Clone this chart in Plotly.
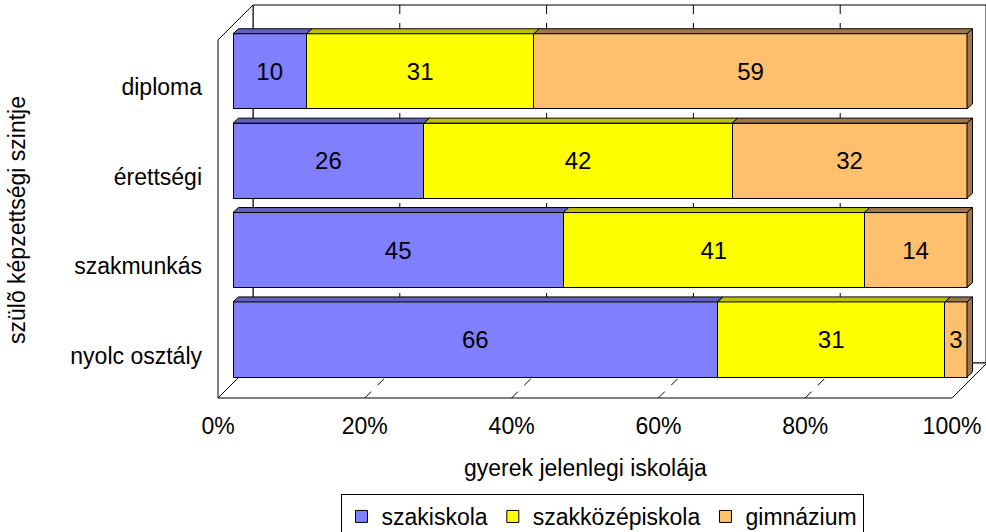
import plotly.graph_objects as go

# ---------------- data ----------------
categories = ["nyolc osztály", "szakmunkás", "érettségi", "diploma"]
series_names = ["szakiskola", "szakközépiskola", "gimnázium"]
szakiskola = [66, 45, 26, 10]
szakkozepiskola = [31, 41, 42, 31]
gimnazium = [3, 14, 32, 59]
x_ticks = [0, 20, 40, 60, 80, 100]

series_values = [szakiskola, szakkozepiskola, gimnazium]
front_colors = ["#8080FF", "#FFFF00", "#FFC06E"]
top_colors = ["#6060C0", "#C0C000", "#A07848"]

FONT = "Liberation Sans, Arial, sans-serif"
FS = 23

W, H = 986, 532
L, R, T, B = 218, 986, 5, 398       # plot area in pixels
PX_PER_X = 7.34                     # px per percent
PX_PER_Y = 89.4                     # px per category step
BAR0_PX = 233                       # pixel of 0% for the bar front faces
CAT0_PX = 339.5                     # pixel centre of first category
DEPTH = 35                          # 3D depth of the box in px
BAR_W = 0.84
DX = 5.5 / PX_PER_X                 # bar 3D offset in data units
DY = 5.0 / PX_PER_Y
LABEL_SHIFT = 16 / PX_PER_Y


def px(xp):
    return (xp - L) / (R - L)


def py(yp):
    return (B - yp) / (B - T)


xb_range = [(L - BAR0_PX) / PX_PER_X, (R - BAR0_PX) / PX_PER_X]
x2_range = [0, (R - L) / PX_PER_X]
y_range = [(CAT0_PX - B) / PX_PER_Y, (CAT0_PX - T) / PX_PER_Y]

fig = go.Figure()

ypos = list(range(len(categories)))

# front faces
for name, vals, col in zip(series_names, series_values, front_colors):
    fig.add_trace(go.Bar(
        y=ypos, x=vals, name=name, orientation="h", width=BAR_W,
        marker=dict(color=col, line=dict(color="black", width=1)),
        text=[str(v) for v in vals], textposition="inside",
        insidetextanchor="middle", textangle=0, constraintext="none",
        textfont=dict(family=FONT, size=24, color="black"),
        hoverinfo="skip",
    ))

# top faces and right side face (3D effect) computed from the data
for i in ypos:
    start = 0
    top = i + BAR_W / 2
    bot = i - BAR_W / 2
    for s, vals in enumerate(series_values):
        a, b = start, start + vals[i]
        fig.add_trace(go.Scatter(
            x=[a, b, b + DX, a + DX, a], y=[top, top, top + DY, top + DY, top],
            mode="lines", fill="toself", fillcolor=top_colors[s],
            line=dict(color="black", width=1), showlegend=False, hoverinfo="skip",
        ))
        start = b
    fig.add_trace(go.Scatter(
        x=[start, start + DX, start + DX, start, start],
        y=[bot, bot + DY, top + DY, top, bot],
        mode="lines", fill="toself", fillcolor=top_colors[-1],
        line=dict(color="black", width=1), showlegend=False, hoverinfo="skip",
    ))

# invisible trace to activate x2 axis
fig.add_trace(go.Scatter(x=[0], y=[0], xaxis="x2", mode="markers",
                         marker=dict(opacity=0), showlegend=False, hoverinfo="skip"))

# ---------------- 3D box (walls, floor, gridlines) ----------------
shapes = []
line = dict(color="black", width=1)
floor_right = L + 100 * PX_PER_X
# back wall
shapes.append(dict(type="path", xref="paper", yref="paper", layer="below",
                   path=f"M{px(L+DEPTH)},{py(T)} L{px(R)},{py(T)} L{px(R)},{py(B-DEPTH)} L{px(L+DEPTH)},{py(B-DEPTH)} Z",
                   fillcolor="white", line=line))
# left side wall
shapes.append(dict(type="path", xref="paper", yref="paper", layer="below",
                   path=f"M{px(L)},{py(T+DEPTH)} L{px(L+DEPTH)},{py(T)} L{px(L+DEPTH)},{py(B-DEPTH)} L{px(L)},{py(B)} Z",
                   fillcolor="white", line=line))
# floor
shapes.append(dict(type="path", xref="paper", yref="paper", layer="below",
                   path=f"M{px(L)},{py(B)} L{px(floor_right)},{py(B)} L{px(floor_right+DEPTH)},{py(B-DEPTH)} L{px(L+DEPTH)},{py(B-DEPTH)} Z",
                   fillcolor="white", line=line))
# gridlines
for v in x_ticks[1:-1]:
    xf = L + v * PX_PER_X
    shapes.append(dict(type="line", xref="paper", yref="paper", layer="below",
                       x0=px(xf + DEPTH), x1=px(xf + DEPTH), y0=py(T), y1=py(B - DEPTH),
                       line=dict(color="black", width=1, dash="dash")))
    shapes.append(dict(type="line", xref="paper", yref="paper", layer="below",
                       x0=px(xf), x1=px(xf + DEPTH), y0=py(B), y1=py(B - DEPTH),
                       line=dict(color="black", width=1, dash="dash")))

fig.update_layout(
    width=W, height=H,
    margin=dict(l=L, r=W - R, t=T, b=H - B, autoexpand=False),
    paper_bgcolor="white", plot_bgcolor="rgba(0,0,0,0)",
    barmode="stack",
    font=dict(family=FONT, size=FS, color="black"),
    shapes=shapes,
    xaxis=dict(range=xb_range, visible=False, fixedrange=True),
    xaxis2=dict(range=x2_range, overlaying="x", side="bottom", anchor="y",
                tickvals=x_ticks, ticktext=[f"{v}%" for v in x_ticks],
                showgrid=False, zeroline=False, showline=False, ticks="",
                ticklabelstandoff=12, automargin=False,
                tickfont=dict(family=FONT, size=FS)),
    yaxis=dict(range=y_range, tickvals=[i - LABEL_SHIFT for i in ypos],
               ticktext=categories, showgrid=False, zeroline=False,
               showline=False, ticks="", ticklabelstandoff=15, automargin=False,
               tickfont=dict(family=FONT, size=FS)),
    showlegend=True,
    legend=dict(orientation="h", x=px(602), xanchor="center", y=py(494), yanchor="top",
                bordercolor="black", borderwidth=1, traceorder="normal",
                font=dict(family=FONT, size=FS), itemwidth=30,
                tracegroupgap=0),
    annotations=[
        dict(text="gyerek jelenlegi iskolája", xref="paper", yref="paper",
             x=px(585), y=py(468), xanchor="center", yanchor="middle",
             showarrow=False, font=dict(family=FONT, size=FS)),
        dict(text="szülõ képzettségi szintje", xref="paper", yref="paper",
             x=px(17), y=py(220), xanchor="center", yanchor="middle", textangle=-90,
             showarrow=False, font=dict(family=FONT, size=FS)),
    ],
)

fig.write_html("out.html", config={"displayModeBar": False},
               post_script="document.body.style.margin='0';document.body.style.overflow='hidden';")
